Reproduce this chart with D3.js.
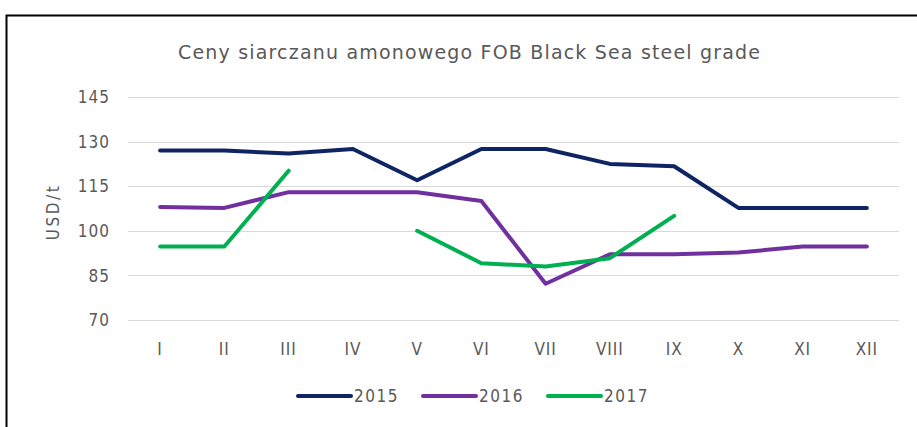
<!DOCTYPE html>
<html>
<head>
<meta charset="utf-8">
<script src="https://cdnjs.cloudflare.com/ajax/libs/d3/7.8.5/d3.min.js"></script>
<style>
  body { margin: 0; background: #fff; }
  text { font-family: "DejaVu Sans Condensed", "DejaVu Sans", sans-serif; fill: #595959; }
</style>
</head>
<body>
<div id="chart"></div>
<script>
// data
var months = ["I", "II", "III", "IV", "V", "VI", "VII", "VIII", "IX", "X", "XI", "XII"]
var yTicks = [70, 85, 100, 115, 130, 145]
var s2015 = [127, 127, 126, 127.5, 117, 127.5, 127.5, 122.5, 121.7, 107.7, 107.7, 107.7]
var s2016 = [108, 107.7, 113, 113, 113, 110, 82.2, 92.1, 92.1, 92.7, 94.7, 94.7]
var s2017 = [94.7, 94.7, 120.2, null, 100, 89.1, 88, 90.8, 105, null, null, null]
var seriesNames = ["2015", "2016", "2017"]
var colors = ["#0f2463", "#7030a0", "#00b050"]

var width = 917, height = 427
var margin = {top: 97, right: 18, bottom: 107, left: 128}

var svg = d3.select("#chart").append("svg")
    .attr("width", width)
    .attr("height", height)

// outer frame (left and top edges visible)
svg.append("path")
    .attr("d", "M6.5," + height + "V15.5H" + width)
    .style("fill", "none")
    .style("stroke", "#000")
    .style("stroke-width", 2)

var x = d3.scaleBand()
    .domain(months)
    .range([margin.left, width - margin.right])

var y = d3.scaleLinear()
    .domain([70, 145])
    .range([height - margin.bottom, margin.top])

// gridlines
svg.selectAll(".grid")
    .data(yTicks)
  .enter().append("line")
    .attr("x1", margin.left)
    .attr("x2", width - margin.right)
    .attr("y1", function(d) { return Math.round(y(d)) + 0.5 })
    .attr("y2", function(d) { return Math.round(y(d)) + 0.5 })
    .style("stroke", "#d9d9d9")
    .style("stroke-width", 1)

// y labels
svg.selectAll(".ylab")
    .data(yTicks)
  .enter().append("text")
    .attr("x", 110)
    .attr("y", function(d) { return y(d) })
    .attr("dy", "0.36em")
    .attr("text-anchor", "end")
    .style("font-size", "17px")
    .style("letter-spacing", "1px")
    .text(function(d) { return d })

// x labels
svg.selectAll(".xlab")
    .data(months)
  .enter().append("text")
    .attr("x", function(d) { return x(d) + x.bandwidth() / 2 })
    .attr("y", 355)
    .attr("text-anchor", "middle")
    .style("font-size", "17px")
    .style("letter-spacing", "1px")
    .text(function(d) { return d })

// axis title
svg.append("text")
    .attr("transform", "translate(59,212) rotate(-90)")
    .attr("text-anchor", "middle")
    .style("font-size", "17px")
    .style("letter-spacing", "2.5px")
    .text("USD/t")

// chart title
svg.append("text")
    .attr("x", 178)
    .attr("y", 59)
    .attr("textLength", 582)
    .attr("lengthAdjust", "spacing")
    .style("font-family", "'DejaVu Sans', sans-serif")
    .style("font-size", "19px")
    .text("Ceny siarczanu amonowego FOB Black Sea steel grade")

var line = d3.line()
    .defined(function(d) { return d != null })
    .x(function(d, i) { return x(months[i]) + x.bandwidth() / 2 })
    .y(function(d) { return y(d) })

var allSeries = [s2015, s2016, s2017]
allSeries.forEach(function(s, k) {
  svg.append("path")
    .datum(s)
    .attr("d", line)
    .style("fill", "none")
    .style("stroke", colors[k])
    .style("stroke-width", 4)
    .style("stroke-linejoin", "round")
    .style("stroke-linecap", "round")
})

// legend
var legendX = [298, 423, 548]
seriesNames.forEach(function(name, k) {
  svg.append("line")
    .attr("x1", legendX[k])
    .attr("x2", legendX[k] + 53)
    .attr("y1", 396)
    .attr("y2", 396)
    .style("stroke", colors[k])
    .style("stroke-width", 4)
    .style("stroke-linecap", "round")
  svg.append("text")
    .attr("x", legendX[k] + 56)
    .attr("y", 396)
    .attr("dy", "0.36em")
    .style("font-size", "17px")
    .style("letter-spacing", "1.5px")
    .text(name)
})
</script>
</body>
</html>
